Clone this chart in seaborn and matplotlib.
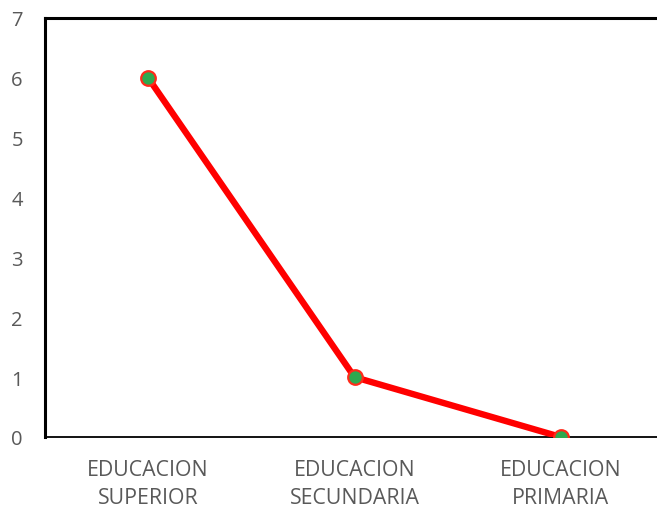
import matplotlib
matplotlib.use("Agg")
import matplotlib.pyplot as plt
import seaborn as sns
import pandas as pd

categories = ["EDUCACION\nSUPERIOR", "EDUCACION\nSECUNDARIA", "EDUCACION\nPRIMARIA"]
values = [6, 1, 0]
y_ticks = [0, 1, 2, 3, 4, 5, 6, 7]

sns.set_style("white")
plt.rcParams["font.family"] = ["Open Sans", "DejaVu Sans"]

df = pd.DataFrame({"pos": range(len(categories)), "valor": values})

W, H = 657, 510
fig = plt.figure(figsize=(W / 100, H / 100), dpi=100)
left, right, top, bottom = 45, 664, 19, 438
ax = fig.add_axes([left / W, 1 - bottom / H, (right - left) / W, (bottom - top) / H])

sns.lineplot(data=df, x="pos", y="valor", ax=ax, color="#FF0000", linewidth=4.6,
             marker="o", markersize=10.5, markerfacecolor="#2EA94F",
             markeredgecolor="#FF2A1A", markeredgewidth=1.6, sort=False, zorder=3,
             solid_capstyle="round")

ax.set_xlim(-0.5, len(categories) - 0.5)
ax.set_ylim(0, 7)
ax.set_yticks(y_ticks)
ax.set_xticks(range(len(categories)))
ax.set_xticklabels(categories, linespacing=1.4, fontsize=15.3)
ax.set_xlabel("")
ax.set_ylabel("")
ax.tick_params(axis="both", length=0, colors="#595959")
ax.tick_params(axis="y", pad=16, labelsize=14.5)
ax.tick_params(axis="x", pad=16)

for side in ["left", "top"]:
    ax.spines[side].set_visible(True)
    ax.spines[side].set_color("black")
    ax.spines[side].set_linewidth(2.2)
ax.spines["bottom"].set_color("black")
ax.spines["bottom"].set_linewidth(1.3)
ax.spines["right"].set_visible(False)
ax.grid(False)

fig.savefig("out.png", dpi=100)
